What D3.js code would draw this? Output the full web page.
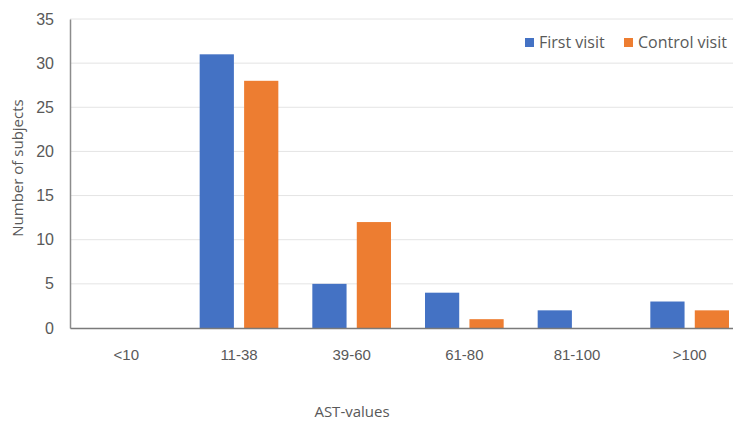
<!DOCTYPE html>
<html>
<head>
<meta charset="utf-8">
<script src="https://cdn.jsdelivr.net/npm/d3@7"></script>
<style>
  html, body { margin: 0; padding: 0; background: #fff; overflow: hidden; }
  svg { display: block; font-family: "Open Sans", "Noto Sans", sans-serif; }
</style>
</head>
<body>
<svg id="chart" width="733" height="423"></svg>
<script>
// AST value ranges and subject counts per visit
const categories = ["<10", "11-38", "39-60", "61-80", "81-100", ">100"];
const seriesNames = ["First visit", "Control visit"];
const firstVisit = [0, 31, 5, 4, 2, 3];
const controlVisit = [0, 28, 12, 1, 0, 2];
const yTicks = [0, 5, 10, 15, 20, 25, 30, 35];
const colors = ["#4472C4", "#ED7D31"];

const svg = d3.select("#chart");
const plotLeft = 70, plotRight = 746, plotTop = 19, plotBottom = 328;
const textColor = "#595959";

const x = d3.scaleBand().domain(categories).range([plotLeft, plotRight]).paddingInner(0).paddingOuter(0);
const xSub = d3.scaleBand().domain(seriesNames).range([17, x.bandwidth() - 17]).paddingInner(0.23);
const y = d3.scaleLinear().domain([0, 35]).range([plotBottom, plotTop]);

// gridlines
svg.append("g")
  .selectAll("line")
  .data(yTicks.filter(d => d > 0))
  .join("line")
  .attr("x1", plotLeft).attr("x2", 733)
  .attr("y1", d => y(d)).attr("y2", d => y(d))
  .attr("stroke", "#e4e4e4").attr("stroke-width", 1);

// bars
const rows = categories.map((c, i) => ({ cat: c, vals: [firstVisit[i], controlVisit[i]] }));
const groups = svg.append("g").selectAll("g")
  .data(rows).join("g")
  .attr("transform", d => `translate(${x(d.cat)},0)`);
groups.selectAll("rect")
  .data(d => d.vals.map((v, j) => ({ name: seriesNames[j], v, j })))
  .join("rect")
  .attr("x", d => xSub(d.name))
  .attr("width", xSub.bandwidth())
  .attr("y", d => y(d.v))
  .attr("height", d => y(0) - y(d.v))
  .attr("fill", d => colors[d.j]);

// y axis
const yAxis = svg.append("g")
  .attr("transform", `translate(${plotLeft},0)`)
  .call(d3.axisLeft(y).tickValues(yTicks).tickSize(0).tickPadding(16));
yAxis.select(".domain").attr("stroke", "#8c8c8c").attr("stroke-width", 1.5);
yAxis.selectAll("text").attr("fill", textColor).style("font-size", "16px");

// x axis
const xAxis = svg.append("g")
  .attr("transform", `translate(0,${plotBottom})`)
  .call(d3.axisBottom(x).tickSize(0).tickPadding(21));
xAxis.select(".domain").attr("stroke", "#7a7a7a").attr("stroke-width", 1.5);
xAxis.selectAll("text").attr("fill", textColor).style("font-size", "15px");

// axis titles
svg.append("text")
  .attr("transform", `translate(23,168) rotate(-90)`)
  .attr("text-anchor", "middle")
  .attr("fill", textColor).style("font-size", "15px")
  .text("Number of subjects");
svg.append("text")
  .attr("x", 352).attr("y", 417)
  .attr("text-anchor", "middle")
  .attr("fill", textColor).style("font-size", "15px")
  .text("AST-values");

// legend
const legend = svg.append("g").attr("transform", "translate(525,43)");
const legendX = [0, 99];
seriesNames.forEach((name, i) => {
  const g = legend.append("g").attr("transform", `translate(${legendX[i]},0)`);
  g.append("rect").attr("x", 0).attr("y", -5).attr("width", 9).attr("height", 9).attr("fill", colors[i]);
  g.append("text").attr("x", 14).attr("y", 5)
    .attr("fill", textColor).style("font-size", "16px")
    .text(name);
});
</script>
</body>
</html>
